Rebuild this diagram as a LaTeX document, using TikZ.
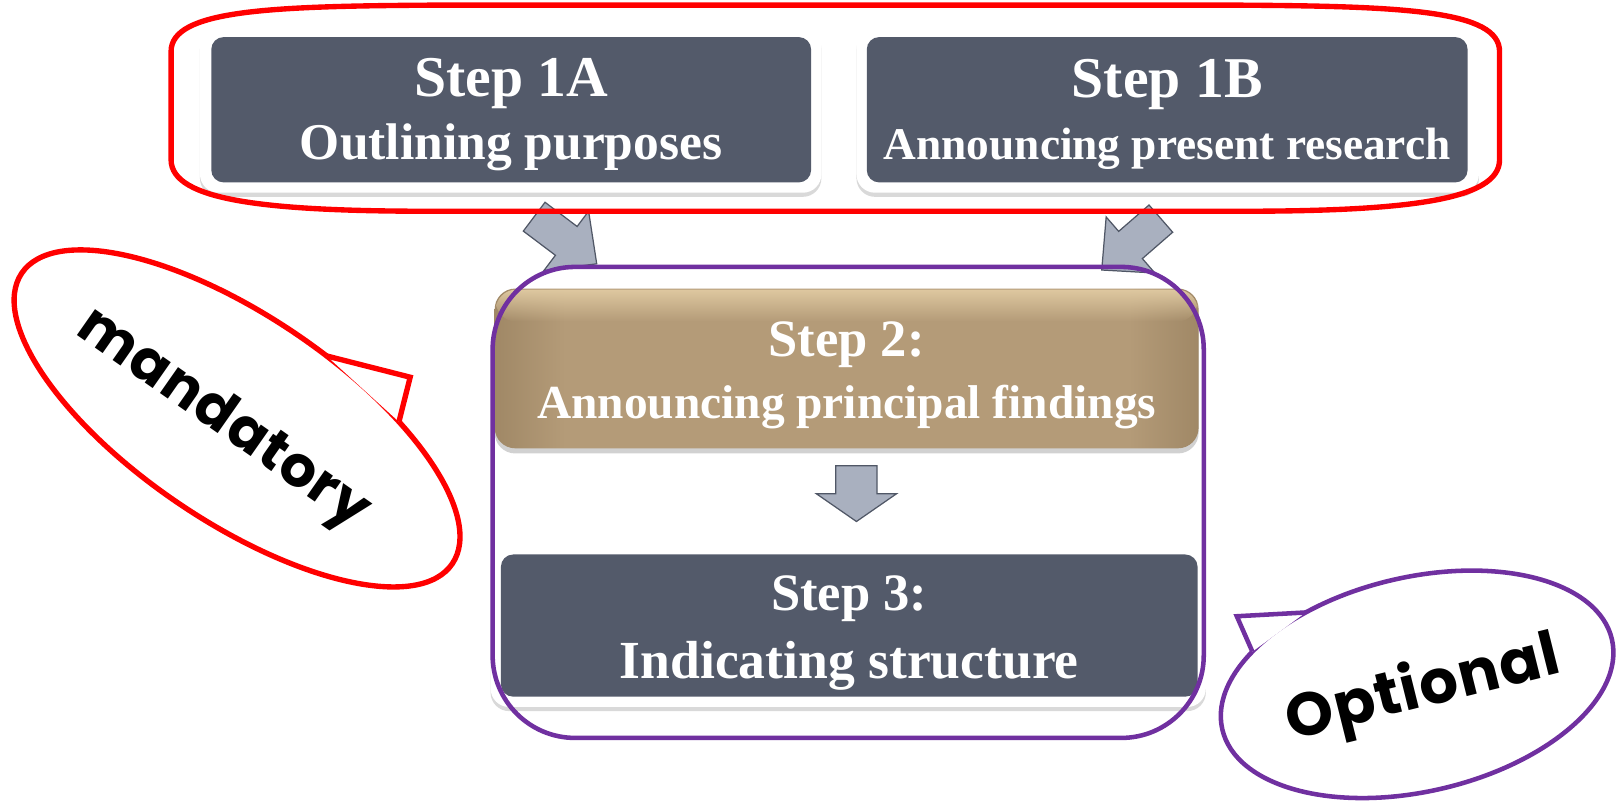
\documentclass[tikz,border=0pt]{standalone}
\usepackage{fontspec}
\setmainfont{Liberation Serif}
\newfontfamily\callfont[LetterSpace=2]{Poppins}
\usetikzlibrary{shadows,fadings}
\definecolor{slate}{RGB}{83,90,106}
\definecolor{tanM}{RGB}{180,155,120}
\definecolor{tanD}{RGB}{160,136,102}
\definecolor{tanL}{RGB}{222,200,160}
\definecolor{arrowfill}{RGB}{169,176,191}
\definecolor{arrowline}{RGB}{80,87,102}
\definecolor{redline}{RGB}{255,0,0}
\definecolor{purp}{RGB}{112,48,160}
\pgfdeclarehorizontalshading{tanshade}{100bp}{color(0bp)=(tanD); color(25bp)=(tanD); color(30bp)=(tanM); color(70bp)=(tanM); color(75bp)=(tanD); color(100bp)=(tanD)}
\tikzset{
  darkbox/.style={fill=slate, rounded corners=6pt, inner sep=0pt, draw=none},
  whitebox/.style={fill=white, rounded corners=9pt, inner sep=0pt,
    drop shadow={shadow xshift=0pt, shadow yshift=-2pt, opacity=0.15, fill=black}},
  tanbox/.style={rounded corners=10pt, inner sep=0pt, shading=tanshade,
    drop shadow={shadow xshift=0pt, shadow yshift=-2.5pt, opacity=0.18, fill=black}},
  steptxt/.style={text=white, inner sep=0pt, anchor=base},
  blockarrow/.style={fill=arrowfill, draw=arrowline, line width=0.6pt, line join=miter},
  callred/.style={draw=redline, line width=2.6pt, fill=white, line join=miter},
  callpurp/.style={draw=purp, line width=2.2pt, fill=white, line join=miter},
  calltxt/.style={inner sep=0pt}
}
\begin{document}
\begin{tikzpicture}[x=0.5pt, y=0.5pt]
\useasboundingbox (0,0) rectangle (1568,-779);
\fill[white] (0,0) rectangle (1568,-779);

% top boxes
\node[whitebox, minimum width=301.5pt, minimum height=80.5pt] (w1a) at (495.5,-106.5) {};
\node[darkbox, minimum width=291pt, minimum height=70.5pt] (s1a) at (496,-106.5) {};
\node[whitebox, minimum width=302pt, minimum height=80.5pt] (w1b) at (1133,-106.5) {};
\node[darkbox, minimum width=291.5pt, minimum height=70.5pt] (s1b) at (1132.5,-106.5) {};

\node[steptxt, font={\bfseries\fontsize{28}{30}\selectfont}] (t1a1) at (496,-94) {Step 1A};
\node[steptxt, font={\bfseries\fontsize{25}{30}\selectfont}] (t1a2) at (496,-154.6) {Outlining purposes};
\node[steptxt, font={\bfseries\fontsize{28}{30}\selectfont}] (t1b1) at (1132.5,-95) {Step 1B};
\node[steptxt, font={\bfseries\fontsize{22}{30}\selectfont}] (t1b2) at (1132.5,-155) {Announcing present research};

% diagonal arrows
\begin{scope}[shift={(579,-256)}, rotate=-37]
  \draw[blockarrow] (-76,-17.5) -- (-37,-17.5) -- (-37,-36) -- (0,0) -- (-37,36) -- (-37,17.5) -- (-76,17.5) -- cycle;
\end{scope}
\begin{scope}[shift={(1069,-262)}, rotate=-139]
  \draw[blockarrow] (-76,-17.5) -- (-37,-17.5) -- (-37,-36) -- (0,0) -- (-37,36) -- (-37,17.5) -- (-76,17.5) -- cycle;
\end{scope}

% step 2
\node[tanbox, minimum width=341.5pt, minimum height=77.5pt] (s2) at (821.5,-357.5) {};
\fill[tanL, path fading=south, rounded corners=10pt] (481,-281) rectangle (1162,-312);
\node[steptxt, font={\bfseries\fontsize{25.5}{30}\selectfont}] (t21) at (821.5,-346) {Step 2:};
\node[steptxt, font={\bfseries\fontsize{23}{30}\selectfont}] (t22) at (821.5,-406) {Announcing principal findings};

% down arrow
\draw[blockarrow] (811,-452) -- (851,-452) -- (851,-479) -- (870,-479) -- (831,-506) -- (792,-479) -- (811,-479) -- cycle;

% step 3
\node[whitebox, minimum width=347pt, minimum height=78.5pt] (w3) at (823,-607.5) {};
\node[darkbox, minimum width=338pt, minimum height=69pt] (s3) at (824,-607) {};
\node[steptxt, font={\bfseries\fontsize{25.5}{30}\selectfont}] (t31) at (824,-592) {Step 3:};
\node[steptxt, font={\bfseries\fontsize{26}{30}\selectfont}] (t32) at (824,-658) {Indicating structure};

% group outlines
\draw[redline, line width=2.6pt] (166,-50) .. controls (166,-10) and (260,-6) .. (420,-5) -- (1201,-5)
  .. controls (1361,-6) and (1455,-10) .. (1455,-50) -- (1455,-155)
  .. controls (1455,-195) and (1361,-205) .. (1201,-205) -- (420,-205)
  .. controls (260,-205) and (166,-195) .. (166,-155) -- cycle;
\draw[purp, line width=2.2pt, rounded corners=40pt] (478,-259) rectangle (1168,-716);

% mandatory callout
\begin{scope}[shift={(230,-406)}, rotate=-34]
  \draw[callred] (0,0) ellipse [x radius=252, y radius=100];
  \draw[callred] (81.3:252 and 100) -- (116.9,127.1) -- (58.4:252 and 100);
\end{scope}
\node[calltxt, rotate=-35, font={\callfont\bfseries\fontsize{27.5}{28}\selectfont}] (mand) at (216,-408) {mandatory};

% optional callout
\begin{scope}[shift={(1375,-664)}, rotate=13]
  \draw[callpurp] (0,0) ellipse [x radius=194, y radius=104];
  \draw[callpurp] (117.5:194 and 104) -- (-155.6,103.7) -- (140:194 and 104);
\end{scope}
\node[calltxt, rotate=14, font={\callfont\bfseries\fontsize{29.5}{30}\selectfont}] (opt) at (1381,-670) {Optional};
\end{tikzpicture}
\end{document}
